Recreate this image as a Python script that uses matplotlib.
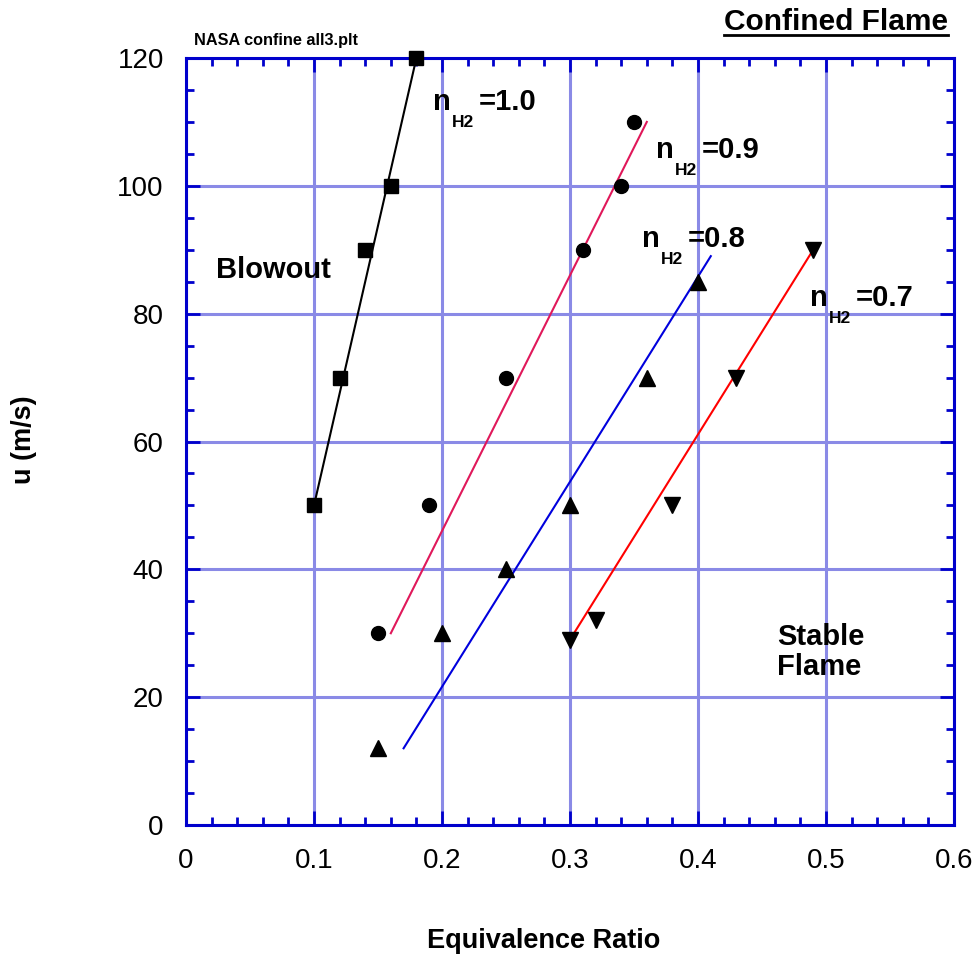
import matplotlib
matplotlib.use("Agg")
import matplotlib.pyplot as plt
from matplotlib.lines import Line2D
from matplotlib.ticker import MultipleLocator, FuncFormatter

plt.rcParams['font.family'] = ['Liberation Sans', 'DejaVu Sans']

# ---- data ----
phi_10 = [0.10, 0.12, 0.14, 0.16, 0.18]
u_10 = [50, 70, 90, 100, 120]
fit_phi_10 = [0.10, 0.18]
fit_u_10 = [50, 120]

phi_09 = [0.15, 0.19, 0.25, 0.31, 0.34, 0.35]
u_09 = [30, 50, 70, 90, 100, 110]
fit_phi_09 = [0.16, 0.36]
fit_u_09 = [30, 110]

phi_08 = [0.15, 0.20, 0.25, 0.30, 0.36, 0.40]
u_08 = [12, 30, 40, 50, 70, 85]
fit_phi_08 = [0.17, 0.41]
fit_u_08 = [12, 89]

phi_07 = [0.30, 0.32, 0.38, 0.43, 0.49]
u_07 = [29, 32, 50, 70, 90]
fit_phi_07 = [0.30, 0.49]
fit_u_07 = [29, 90]

label_values = ['1.0', '0.9', '0.8', '0.7']
label_phi = [0.193, 0.367, 0.356, 0.4875]
label_u = [111.9, 104.4, 90.4, 81.25]

x_ticks = [0, 0.1, 0.2, 0.3, 0.4, 0.5, 0.6]
y_ticks = [0, 20, 40, 60, 80, 100, 120]

# ---- figure ----
W, H = 975, 961
fig = plt.figure(figsize=(W / 100, H / 100), dpi=100)
ax = fig.add_axes([186 / W, 1 - 825 / H, (954 - 186) / W, (825 - 58) / H])

spine_col = '#0000cc'
grid_col = '#8a8ae6'

ax.set_xlim(0, 0.6)
ax.set_ylim(0, 120)
ax.xaxis.set_major_locator(MultipleLocator(0.1))
ax.xaxis.set_minor_locator(MultipleLocator(0.02))
ax.yaxis.set_major_locator(MultipleLocator(20))
ax.yaxis.set_minor_locator(MultipleLocator(5))
ax.set_xticks(x_ticks)
ax.set_yticks(y_ticks)
ax.xaxis.set_major_formatter(FuncFormatter(lambda v, p: '0' if abs(v) < 1e-9 else f'{v:.1f}'))
ax.yaxis.set_major_formatter(FuncFormatter(lambda v, p: f'{int(round(v))}'))

ax.grid(True, which='major', color=grid_col, linewidth=2.2, zorder=0)
ax.set_axisbelow(True)
for s in ax.spines.values():
    s.set_color(spine_col)
    s.set_linewidth(2.2)
ax.tick_params(which='both', direction='in', top=True, right=True, color=spine_col,
               labelsize=20, labelcolor='black')
ax.tick_params(which='major', length=10, width=2)
ax.tick_params(which='minor', length=5.5, width=2)
ax.tick_params(axis='x', which='major', pad=16.5)
ax.tick_params(axis='y', which='major', pad=16)

ms = 10
ax.plot(fit_phi_10, fit_u_10, color='black', lw=1.5, zorder=3)
ax.plot(phi_10, u_10, 's', color='black', ms=ms, zorder=4, clip_on=False)

ax.plot(fit_phi_09, fit_u_09, color='#e0185a', lw=1.5, zorder=3)
ax.plot(phi_09, u_09, 'o', color='black', ms=ms, zorder=4, clip_on=False)

ax.plot(fit_phi_08, fit_u_08, color='#0000dd', lw=1.5, zorder=3)
ax.plot(phi_08, u_08, '^', color='black', ms=11, zorder=4, clip_on=False)

ax.plot(fit_phi_07, fit_u_07, color='#ff0000', lw=1.5, zorder=3)
ax.plot(phi_07, u_07, 'v', color='black', ms=11, zorder=4, clip_on=False)

# n_H2 labels
for val, lx, ly in zip(label_values, label_phi, label_u):
    ax.text(lx, ly, 'n', fontsize=21, fontweight='bold', ha='left', va='baseline', zorder=5)
    ax.annotate('H2', xy=(lx, ly), xytext=(19, -17), textcoords='offset pixels',
                fontsize=12.5, fontweight='bold', ha='left', va='baseline', zorder=5)
    ax.annotate('=' + val, xy=(lx, ly), xytext=(46, 0), textcoords='offset pixels',
                fontsize=21, fontweight='bold', ha='left', va='baseline', zorder=5)

ax.text(0.0234, 85.6, 'Blowout', fontsize=21, fontweight='bold', ha='left', va='baseline')
ax.text(0.4615, 28.1, 'Stable', fontsize=21, fontweight='bold', ha='left', va='baseline')
ax.text(0.4615, 23.4, 'Flame', fontsize=21, fontweight='bold', ha='left', va='baseline')

# figure texts
fig.text(194 / W, 1 - 45 / H, 'NASA confine all3.plt', fontsize=11.7, fontweight='bold',
         ha='left', va='baseline')
title = fig.text(948 / W, 1 - 29.5 / H, 'Confined Flame', fontsize=21.5, fontweight='bold',
                 ha='right', va='baseline')
fig.text(544 / W, 1 - 948 / H, 'Equivalence Ratio', fontsize=19.5, fontweight='bold',
         ha='center', va='baseline')
fig.text(24 / W, 1 - 440 / H, 'u (m/s)', fontsize=19.5, fontweight='bold',
         ha='center', va='center', rotation=90)

# underline for the title
fig.canvas.draw()
bb = title.get_window_extent(fig.canvas.get_renderer())
uy = 1 - 34.7 / H
fig.add_artist(Line2D([bb.x0 / W, bb.x1 / W], [uy, uy], transform=fig.transFigure,
                      color='black', linewidth=2))

fig.savefig('out.png', dpi=100)
